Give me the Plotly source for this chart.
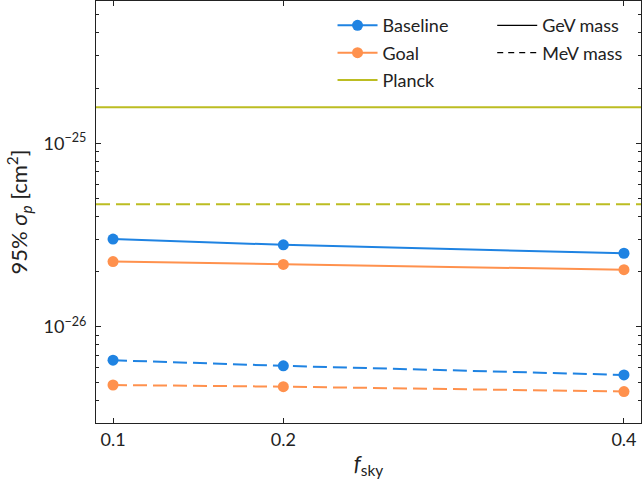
import plotly.graph_objects as go

# ---- data ----
f_sky = [0.1, 0.2, 0.4]
baseline_gev = [3.01e-26, 2.80e-26, 2.52e-26]
goal_gev = [2.27e-26, 2.19e-26, 2.05e-26]
baseline_mev = [6.59e-27, 6.14e-27, 5.48e-27]
goal_mev = [4.83e-27, 4.73e-27, 4.45e-27]
planck_gev = 1.57e-25
planck_mev = 4.66e-26

x_limits = [0.09, 0.41]
y_limits_log = [-26.523, -24.225]
x_tick_vals = [0.1, 0.2, 0.4]
x_tick_text = ["0.1", "0.2", "0.4"]
y_tick_vals = [1e-26, 1e-25]
y_tick_text = ["10<sup>\u221226</sup>", "10<sup>\u221225</sup>"]

BLUE = "#1f83e2"
ORANGE = "#ff914d"
OLIVE = "#bcbd22"
FONT = "Lato"
DASH = "14px,6px"
FS = 18

fig = go.Figure()

# Planck lines
fig.add_trace(go.Scatter(x=x_limits, y=[planck_gev] * 2, mode="lines",
                         line=dict(color=OLIVE, width=2), showlegend=False))
fig.add_trace(go.Scatter(x=x_limits, y=[planck_mev] * 2, mode="lines",
                         line=dict(color=OLIVE, width=2, dash=DASH), showlegend=False))

# Experiment curves
for ys, col, dash in [(baseline_gev, BLUE, "solid"), (goal_gev, ORANGE, "solid"),
                      (baseline_mev, BLUE, DASH), (goal_mev, ORANGE, DASH)]:
    fig.add_trace(go.Scatter(x=f_sky, y=ys, mode="lines+markers",
                             line=dict(color=col, width=2, dash=dash),
                             marker=dict(color=col, size=11), showlegend=False))

# Legend entries
fig.add_trace(go.Scatter(x=[None], y=[None], mode="lines+markers", name="Baseline",
                         line=dict(color=BLUE, width=2), marker=dict(color=BLUE, size=11),
                         legend="legend", legendgroup="a"))
fig.add_trace(go.Scatter(x=[None], y=[None], mode="lines+markers", name="Goal",
                         line=dict(color=ORANGE, width=2), marker=dict(color=ORANGE, size=11),
                         legend="legend", legendgroup="b"))
fig.add_trace(go.Scatter(x=[None], y=[None], mode="lines", name="Planck",
                         line=dict(color=OLIVE, width=2), legend="legend", legendgroup="c"))
fig.add_trace(go.Scatter(x=[None], y=[None], mode="lines", name="GeV mass",
                         line=dict(color="black", width=1.3), legend="legend2", legendgroup="d"))
fig.add_trace(go.Scatter(x=[None], y=[None], mode="lines", name="MeV mass",
                         line=dict(color="black", width=1.3, dash="6px,5px"),
                         legend="legend2", legendgroup="e"))

minor_vals = [m * 10.0 ** e for e in (-27, -26, -25) for m in range(2, 10)]

fig.update_layout(
    width=642, height=485,
    margin=dict(l=96, r=1, t=1, b=62),
    plot_bgcolor="white", paper_bgcolor="white",
    font=dict(family=FONT, size=FS, color="#222"),
    showlegend=True,
    legend=dict(x=0.434, y=0.9855, xanchor="left", yanchor="top", bgcolor="rgba(0,0,0,0)",
                font=dict(size=FS), tracegroupgap=1, traceorder="grouped", itemwidth=40),
    legend2=dict(x=0.727, y=0.9855, xanchor="left", yanchor="top", bgcolor="rgba(0,0,0,0)",
                 font=dict(size=FS), tracegroupgap=1, traceorder="grouped", itemwidth=40),
    xaxis=dict(range=x_limits, tickvals=x_tick_vals, ticktext=x_tick_text,
               ticks="inside", ticklen=5, tickcolor="#222", showgrid=False, zeroline=False,
               showline=True, linecolor="#222", linewidth=1, mirror="allticks",
               automargin=False,
               title=dict(text="<i>f</i><sub>sky</sub>", standoff=7),
               tickfont=dict(size=FS)),
    yaxis=dict(type="log", range=y_limits_log, tickvals=y_tick_vals, ticktext=y_tick_text,
               ticks="inside", ticklen=5, tickcolor="#222", showgrid=False, zeroline=False,
               showline=True, linecolor="#222", linewidth=1, mirror="allticks",
               automargin=False, ticklabelstandoff=5,
               minor=dict(tickvals=minor_vals, ticks="inside", ticklen=3, tickcolor="#222",
                          showgrid=False),
               title=dict(text="95% <i>\u03c3</i><sub><i>p</i></sub> [cm<sup>2</sup>]", standoff=9),
               tickfont=dict(size=FS)),
)

fig.write_html("out.html", config={"displayModeBar": False},
               post_script="document.body.style.margin='0';document.body.style.padding='0';")
